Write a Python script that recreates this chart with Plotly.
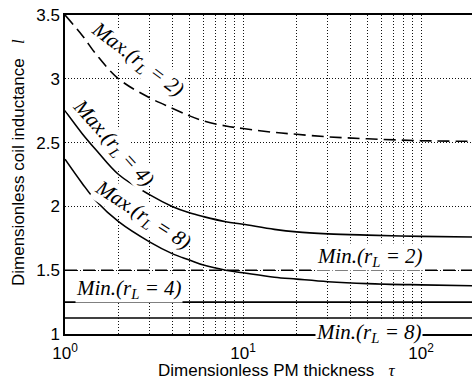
import numpy as np
import plotly.graph_objects as go

# ---- data ----
tau = [1, 1.25, 1.5, 2, 3, 4, 5, 6, 8, 10, 15, 20, 30, 50, 100, 194]
max_r2 = [3.50, 3.34, 3.19, 3.00, 2.85, 2.77, 2.71, 2.67, 2.63, 2.61, 2.58, 2.565, 2.545, 2.53, 2.515, 2.51]
max_r4 = [2.75, 2.57, 2.44, 2.25, 2.09, 2.00, 1.95, 1.92, 1.88, 1.86, 1.82, 1.80, 1.785, 1.775, 1.765, 1.76]
max_r8 = [2.37, 2.18, 2.04, 1.88, 1.72, 1.63, 1.58, 1.54, 1.50, 1.48, 1.445, 1.43, 1.41, 1.395, 1.385, 1.378]
min_r2 = 1.5
min_r4 = 1.25
min_r8 = 1.125
tau_span = [1, 194]

x_tickvals = [1, 10, 100]
x_ticktext = ["10<sup>0</sup>", "10<sup>1</sup>", "10<sup>2</sup>"]
x_minorvals = [2, 3, 4, 5, 6, 7, 8, 9, 20, 30, 40, 50, 60, 70, 80, 90]
y_tickvals = [1, 1.5, 2, 2.5, 3, 3.5]
y_ticktext = ["1", "1.5", "2", "2.5", "3", "3.5"]

SANS = "Liberation Sans, Arial, sans-serif"
SERIF = "Liberation Serif, Times New Roman, serif"
LW = 1.6
DASH = "12px,6px"

fig = go.Figure()

def add_line(x, y, dash="solid", spline=True):
    fig.add_trace(go.Scatter(
        x=x, y=y, mode="lines",
        line=dict(color="black", width=LW, dash=dash,
                  shape="spline" if spline else "linear", smoothing=1.0),
        showlegend=False, hoverinfo="skip"))

add_line(tau, max_r2, dash=DASH)
add_line(tau, max_r4)
add_line(tau, max_r8)
add_line(tau_span, [min_r2, min_r2], dash=DASH, spline=False)
add_line(tau_span, [min_r4, min_r4], spline=False)
add_line(tau_span, [min_r8, min_r8], spline=False)

def label(txt, x, y, angle=0, xref="x", yref="y"):
    fig.add_annotation(
        x=np.log10(x) if xref == "x" else x, y=y, xref=xref, yref=yref,
        text=txt, showarrow=False, textangle=angle,
        font=dict(family=SERIF, size=21, color="black"),
        bgcolor="white", borderpad=0,
        xanchor="center", yanchor="middle")

label("<i>Max.(r<sub>L</sub> = 2)</i>", 10 ** 0.41, 3.15, 37)
label("<i>Max.(r<sub>L</sub> = 4)</i>", 10 ** 0.27, 2.50, 48)
label("<i>Max.(r<sub>L</sub> = 8)</i>", 10 ** 0.433, 1.93, 33)
label("<i>Min.(r<sub>L</sub> = 2)</i>", 10 ** 1.713, 1.60)
label("<i>Min.(r<sub>L</sub> = 4)</i>", 10 ** 0.36, 1.35)
label("<i>Min.(r<sub>L</sub> = 8)</i>", (369 - 65) / 407, (334 - 332.5) / 319, 0, "paper", "paper")

# axis titles
fig.add_annotation(
    x=(277 - 65) / 407, y=(334 - 370) / 319, xref="paper", yref="paper",
    text="Dimensionless PM thickness\u00a0\u00a0\u00a0<span style=\"font-family:Liberation Serif;font-style:italic\">τ</span>",
    showarrow=False, font=dict(family=SANS, size=17, color="black"),
    xanchor="center", yanchor="middle")
fig.add_annotation(
    x=(18 - 65) / 407, y=(334 - 163) / 319, xref="paper", yref="paper",
    text="Dimensionless coil inductance\u00a0\u00a0\u00a0<span style=\"font-family:Liberation Serif;font-style:italic\">l</span>",
    showarrow=False, textangle=-90, font=dict(family=SANS, size=17, color="black"),
    xanchor="center", yanchor="middle")

GRIDC = "#111"
GRIDD = "1px,2px"
fig.update_xaxes(type="log", range=[0, 2.2865], tickmode="array",
                 tickvals=x_tickvals, ticktext=x_ticktext, automargin=False,
                 showline=True, linecolor="black", linewidth=1.5, mirror=True,
                 ticks="", ticklabelstandoff=3,
                 tickfont=dict(family=SANS, size=17, color="black"),
                 showgrid=True, gridcolor=GRIDC, gridwidth=1, griddash=GRIDD,
                 minor=dict(tickmode="array", tickvals=x_minorvals, showgrid=True,
                            gridcolor=GRIDC, gridwidth=1, griddash=GRIDD, ticks=""),
                 zeroline=False)
fig.update_yaxes(range=[1, 3.5], tickmode="array",
                 tickvals=y_tickvals, ticktext=y_ticktext, automargin=False,
                 showline=True, linecolor="black", linewidth=1.5, mirror=True,
                 ticks="", tickfont=dict(family=SANS, size=17, color="black"),
                 showgrid=True, gridcolor=GRIDC, gridwidth=1, griddash=GRIDD,
                 zeroline=False)

fig.update_layout(width=472, height=380, margin=dict(l=65, r=0, t=15, b=46),
                  plot_bgcolor="white", paper_bgcolor="white")
fig.write_html("out.html", config={"displayModeBar": False},
               post_script="document.body.style.margin='0';document.body.style.padding='0';")
